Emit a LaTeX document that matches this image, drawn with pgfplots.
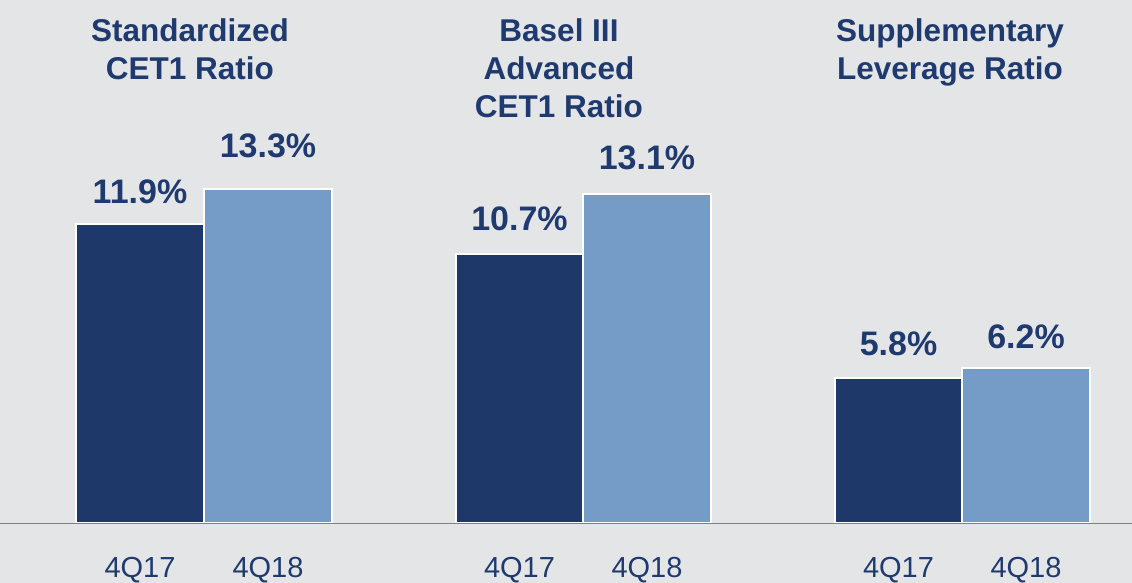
\documentclass[border=0pt]{standalone}
\usepackage{fontspec}
\setmainfont{Liberation Sans}
\usepackage{pgfplots}
\usepackage{pgfplotstable}
\pgfplotsset{compat=1.18}
\definecolor{bgcol}{RGB}{228,229,231}
\definecolor{navytext}{RGB}{31,58,110}
\definecolor{darkbar}{RGB}{31,56,106}
\definecolor{lightbar}{RGB}{117,155,199}
\definecolor{basecol}{RGB}{128,128,128}
\pgfplotstableread{
x y gap
140 11.9 19
519.5 10.7 23
898.5 5.8 21
}\darkdata
\pgfplotstableread{
x y gap
268 13.3 30
647 13.1 23
1026 6.2 18
}\lightdata
\begin{document}
\begin{tikzpicture}
\begin{axis}[
  at={(0,0)}, anchor=south west,
  scale only axis, width=1132pt, height=583pt,
  xmin=0, xmax=1132, ymin=-2.366, ymax=20.815,
  axis line style={draw=none},
  axis background/.style={fill=bgcol},
  major tick length=0pt,
  ytick=\empty,
  xtick={140,268,519.5,647,898.5,1026},
  xticklabels={4Q17,4Q18,4Q17,4Q18,4Q17,4Q18},
  x tick label style={anchor=base, inner sep=0pt, yshift=5pt, font=\fontsize{29}{34}\selectfont, text=navytext},
  extra y ticks={0},
  extra y tick labels={},
  major grid style={draw=basecol, line width=1.5pt},
  extra y tick style={grid=major},
  axis on top,
  clip=false,
]
\addplot[ybar, bar width=128, bar shift=0pt, fill=darkbar, draw=white, line width=2pt,
  visualization depends on={\thisrow{gap} \as \gap},
  nodes near coords={\pgfmathprintnumber[fixed,fixed zerofill,precision=1,assume math mode=true]{\pgfplotspointmeta}\%},
  every node near coord/.append style={inner sep=0pt, draw=none, yshift=\gap pt, font=\fontsize{34}{40}\selectfont\bfseries, text=navytext},
] table[x=x,y=y] {\darkdata};
\addplot[ybar, bar width=128, bar shift=0pt, fill=lightbar, draw=white, line width=2pt,
  visualization depends on={\thisrow{gap} \as \gap},
  nodes near coords={\pgfmathprintnumber[fixed,fixed zerofill,precision=1,assume math mode=true]{\pgfplotspointmeta}\%},
  every node near coord/.append style={inner sep=0pt, draw=none, yshift=\gap pt, font=\fontsize{34}{40}\selectfont\bfseries, text=navytext},
] table[x=x,y=y] {\lightdata};
\node[anchor=north, align=center, inner sep=0pt, font=\fontsize{31.5}{38}\selectfont\bfseries, text=navytext] at (axis cs:190,20.10) {Standardized\\CET1 Ratio};
\node[anchor=north, align=center, inner sep=0pt, font=\fontsize{31.5}{38}\selectfont\bfseries, text=navytext] at (axis cs:559,20.10) {Basel III\\Advanced\\CET1 Ratio};
\node[anchor=north, align=center, inner sep=0pt, font=\fontsize{31.5}{38}\selectfont\bfseries, text=navytext] at (axis cs:950,20.10) {Supplementary\\Leverage Ratio};
\end{axis}
\pgfresetboundingbox
\useasboundingbox (0,0) rectangle (1132pt,583pt);
\end{tikzpicture}
\end{document}
